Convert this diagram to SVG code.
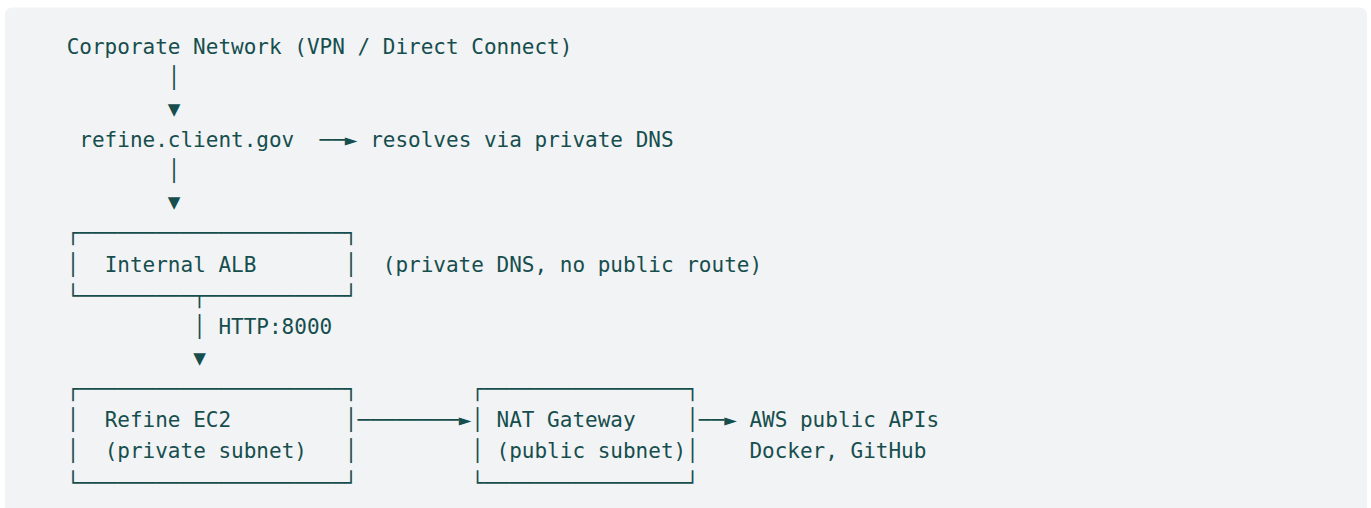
<svg xmlns="http://www.w3.org/2000/svg" width="1371" height="508" viewBox="0 0 1371 508">
  <style>
    .t { font-family: "DejaVu Sans Mono", "Liberation Mono", monospace; font-size: 21px; fill: #164e4d; }
  </style>
  <!-- code block panel -->
  <rect x="5" y="7.5" width="1362" height="520" rx="7" fill="#f2f3f5"/>

  <!-- grid: x = 66.7 + 12.643*col, baseline = 53.5 + 31.15*row -->
  <g id="corporate-network">
    <text class="t" x="66.7" y="53.5">Corporate Network (VPN / Direct Connect)</text>
  </g>

  <g id="dns-name">
    <text class="t" x="79.34" y="146.95">refine.client.gov</text>
  </g>

  <g id="dns-note">
    <text class="t" x="370.13" y="146.95">resolves via private DNS</text>
  </g>

  <g id="internal-alb">
    <text class="t" x="66.7" y="240.4">┌─────────────────────┐</text>
    <text class="t" x="66.7" y="271.55">│</text>
    <text class="t" x="104.63" y="271.55">Internal ALB</text>
    <text class="t" x="344.85" y="271.55">│</text>
    <text class="t" x="66.7" y="302.7">└─────────┬───────────┘</text>
  </g>

  <g id="alb-note">
    <text class="t" x="382.78" y="271.55">(private DNS, no public route)</text>
  </g>

  <g id="refine-ec2">
    <text class="t" x="66.7" y="396.15">┌─────────────────────┐</text>
    <text class="t" x="66.7" y="427.3">│</text>
    <text class="t" x="104.63" y="427.3">Refine EC2</text>
    <text class="t" x="344.85" y="427.3">│</text>
    <text class="t" x="66.7" y="458.45">│</text>
    <text class="t" x="104.63" y="458.45">(private subnet)</text>
    <text class="t" x="344.85" y="458.45">│</text>
    <text class="t" x="66.7" y="489.6">└─────────────────────┘</text>
  </g>

  <g id="nat-gateway">
    <text class="t" x="471.28" y="396.15">┌────────────────┐</text>
    <text class="t" x="471.28" y="427.3">│</text>
    <text class="t" x="496.56" y="427.3">NAT Gateway</text>
    <text class="t" x="686.21" y="427.3">│</text>
    <text class="t" x="471.28" y="458.45">│</text>
    <text class="t" x="496.56" y="458.45">(public subnet)</text>
    <text class="t" x="686.21" y="458.45">│</text>
    <text class="t" x="471.28" y="489.6">└────────────────┘</text>
  </g>

  <g id="public-endpoints">
    <text class="t" x="749.42" y="427.3">AWS public APIs</text>
    <text class="t" x="749.42" y="458.45">Docker, GitHub</text>
  </g>

  <g id="connectors">
    <!-- corporate network down to DNS name -->
    <text class="t" x="167.84" y="84.65">│</text>
    <text class="t" x="167.84" y="115.8">▼</text>
    <!-- DNS name to resolution note -->
    <text class="t" x="319.56" y="146.95">──►</text>
    <!-- DNS name down to ALB -->
    <text class="t" x="167.84" y="178.1">│</text>
    <text class="t" x="167.84" y="209.25">▼</text>
    <!-- ALB down to EC2 -->
    <text class="t" x="193.13" y="333.85">│</text>
    <text class="t" x="218.42" y="333.85">HTTP:8000</text>
    <text class="t" x="193.13" y="365">▼</text>
    <!-- EC2 to NAT gateway -->
    <text class="t" x="357.49" y="427.3">────────►</text>
    <!-- NAT gateway out to public endpoints -->
    <text class="t" x="698.85" y="427.3">──►</text>
  </g>
</svg>
